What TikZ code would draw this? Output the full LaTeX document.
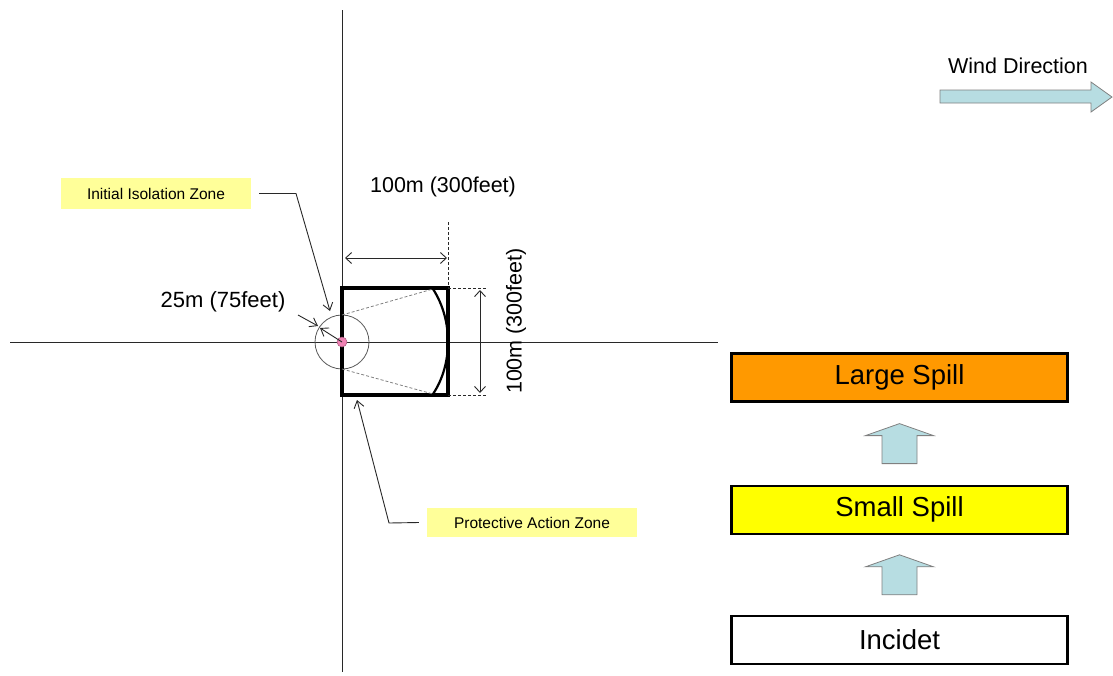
\documentclass[tikz,border=0pt]{standalone}
\usepackage{fontspec}
\setmainfont{Liberation Sans}
\usetikzlibrary{arrows.meta,positioning}
\definecolor{Cpale}{RGB}{255,255,153}
\definecolor{Corange}{RGB}{255,153,0}
\definecolor{Cyellow}{RGB}{255,255,0}
\definecolor{Cwind}{RGB}{183,221,226}
\definecolor{Cpink}{RGB}{240,130,180}
\definecolor{Cline}{RGB}{40,40,40}

\begin{document}
\begin{tikzpicture}[x=1pt,y=-1pt,
    spillbox/.style={draw=black, line width=2.2pt, minimum width=336pt,
      minimum height=48pt, inner sep=0pt, font=\fontsize{27.5}{32}\selectfont},
    zonelabel/.style={fill=Cpale, inner sep=0pt, font=\fontsize{15.5}{18}\selectfont},
    dimline/.style={Cline, line width=0.9pt,
      {Straight Barb[length=6pt,width=11pt]}-{Straight Barb[length=6pt,width=11pt]}},
    leader/.style={Cline, line width=0.9pt, -{Straight Barb[length=7pt,width=10pt]}},
    guide/.style={Cline, line width=0.8pt, dash pattern=on 3pt off 2pt},
    blockarrow/.style={fill=Cwind, draw=gray, line width=0.8pt}]
      \useasboundingbox (0,0) rectangle (1113,675);
      % Eixos
      \coordinate (O) at (342,342);
      \draw[Cline, line width=0.9pt] (342,10) -- (342,672);
      \draw[Cline, line width=0.9pt] (10,342) -- (718,342);
      % Zona de isolamento inicial
      \draw[gray!70!black, line width=0.8pt] (O) circle (27);
      % Zona de acao protetora
      \node[draw=black, line width=3.2pt, minimum width=106pt, minimum height=107pt,
        inner sep=0pt, outer sep=0pt, anchor=west] (paz) at (342,341.5) {};
      \draw[black, line width=2.2pt] (433,289) .. controls (453,320) and (453,364) .. (433,394);
      \draw[gray, line width=0.8pt, dash pattern=on 3pt off 2pt] (342,315) -- (433,289);
      \draw[gray, line width=0.8pt, dash pattern=on 3pt off 2pt] (342,369) -- (433,394);
      \fill[Cpink, draw=Cpink!70!black, line width=0.5pt] (O) circle (5);
      % Cotas
      \coordinate (dimtop) at (448,222);
      \draw[guide] (dimtop) -- (paz.north east);
      \draw[guide] (paz.north east) -- (487,288);
      \draw[guide] (paz.south east) -- (487,395);
      \draw[dimline] (345,258) -- (447,258);
      \draw[dimline] (480,290) -- (480,393);
      \node[font=\fontsize{21.5}{25}\selectfont] (widthlbl) at (443,187) {100m (300feet)};
      \node[font=\fontsize{21.5}{25}\selectfont, rotate=90] (depthlbl) at (516,321) {100m (300feet)};
      \node[font=\fontsize{22}{26}\selectfont] (radiuslbl) at (223,302) {25m (75feet)};
      \draw[leader] (298,315) -- (318,326);
      \draw[leader] (O) -- (320,328);
      % Rotulos das zonas
      \node[zonelabel, minimum width=190pt, minimum height=31pt] (iiz) at (156,193.5)
        {Initial Isolation Zone};
      \coordinate (iizbend) at (296,193.5);
      \coordinate (iiztip) at (330,311);
      \draw[leader] ([xshift=8pt]iiz.east) -- (iizbend) -- (iiztip);
      \node[zonelabel, minimum width=210pt, minimum height=29pt] (pazlbl) at (532,522.5)
        {Protective Action Zone};
      \coordinate (pazbend) at (389,523);
      \coordinate (paztip) at (357,400);
      \draw[leader] ([xshift=-8pt]pazlbl.west) -- (pazbend) -- (paztip);
      % Niveis de derramamento
      \node[spillbox, fill=Corange] (large) at (899.5,377.5) {Large Spill};
      \node[spillbox, fill=Cyellow, below=82pt of large] (small) {Small Spill};
      \node[spillbox, fill=white, below=80pt of small] (incidet) {Incidet};
      \foreach \lo/\hi in {small/large, incidet/small} {
        \path (\hi.south) -- coordinate[midway] (mid) (\lo.north);
        \draw[blockarrow, shift={(mid)}] (-17.5,20) -- (-17.5,-8) -- (-34,-8) -- (0,-20)
          -- (34,-8) -- (17.5,-8) -- (17.5,20) -- cycle;
      }
      % Direcao do vento
      \node[font=\fontsize{21.5}{25}\selectfont] (windlbl) at (1018,66) {Wind Direction};
      \draw[blockarrow] (940,90) -- (1091,90) -- (1091,82) -- (1112,97) -- (1091,112)
        -- (1091,103) -- (940,103) -- cycle;
    \end{tikzpicture}
\end{document}
